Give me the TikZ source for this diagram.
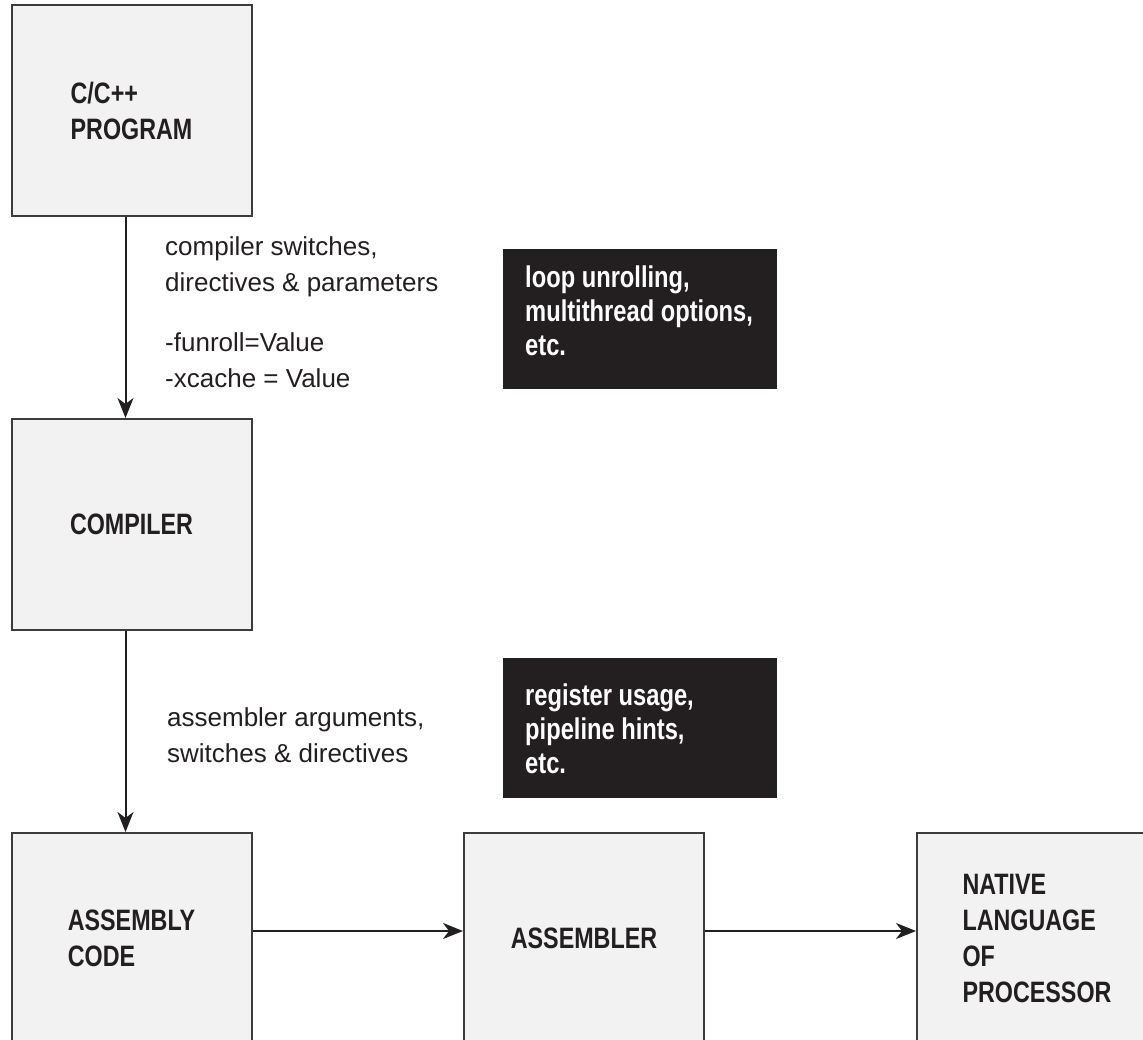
\documentclass[tikz,border=0pt]{standalone}
\usepackage{fontspec}
\setmainfont{Liberation Sans}
\newfontfamily\cnfont[FakeStretch=0.79]{Liberation Sans}
\usetikzlibrary{arrows.meta}
\definecolor{ink}{HTML}{231F20}
\definecolor{boxfill}{HTML}{F2F2F2}
\definecolor{boxline}{HTML}{3C3C3C}
\begin{document}
\begin{tikzpicture}[x=1pt,y=-1pt,
  stepbox/.style={draw=boxline, fill=boxfill, line width=2pt, minimum width=240pt, minimum height=211pt,
    inner sep=0pt, align=left, text=ink, font=\cnfont\bfseries\fontsize{29.5}{36}\selectfont},
  notebox/.style={fill=ink, draw=none, minimum width=274pt, minimum height=140pt, inner sep=0pt},
  notetext/.style={text=white, align=left, inner sep=0pt, anchor=base west,
    font=\cnfont\bfseries\fontsize{30}{34}\selectfont},
  lbl/.style={text=ink, align=left, inner sep=0pt, anchor=base west, font=\fontsize{26}{36}\selectfont},
  arr/.style={draw=ink, line width=2pt, -{Stealth[length=20pt,width=16pt,inset=6pt]}}]
\useasboundingbox (0,0) rectangle (1143,1039);
\clip (0,0) rectangle (1143,1039);
\fill[white] (0,0) rectangle (1143,1039);
% main boxes
\node[stepbox] (prog) at (131.5,110.5) {C/C++\\PROGRAM};
\node[stepbox] (comp) at (131.5,524.5) {COMPILER};
\node[stepbox] (code) at (131.5,938.5) {ASSEMBLY\\CODE};
\node[stepbox] (asm)  at (584,938.5) {ASSEMBLER};
\node[stepbox] (nat)  at (1037,938.5) {NATIVE\\LANGUAGE\\OF\\PROCESSOR};
% black notes
\node[notebox] (n1) at (640,319) {};
\node[notetext] (n1t) at (525,355) {loop unrolling,\\multithread options,\\etc.};
\node[notebox] (n2) at (640,728) {};
\node[notetext] (n2t) at (525,773) {register usage,\\pipeline hints,\\etc.};
% labels
\node[lbl] (l1) at (165,387) {compiler switches,\\directives \& parameters\\[24pt]-funroll=Value\\-xcache = Value};
\node[lbl] (l2) at (167,762) {assembler arguments,\\switches \& directives};
% connectors
\draw[arr] ([xshift=-6pt]prog.south) -- ([xshift=-6pt]comp.north);
\draw[arr] ([xshift=-6pt]comp.south) -- ([xshift=-6pt]code.north);
\draw[arr] ([yshift=7.5pt]code.east) -- ([yshift=7.5pt]asm.west);
\draw[arr] ([yshift=7.5pt]asm.east) -- ([yshift=7.5pt]nat.west);
\end{tikzpicture}
\end{document}
